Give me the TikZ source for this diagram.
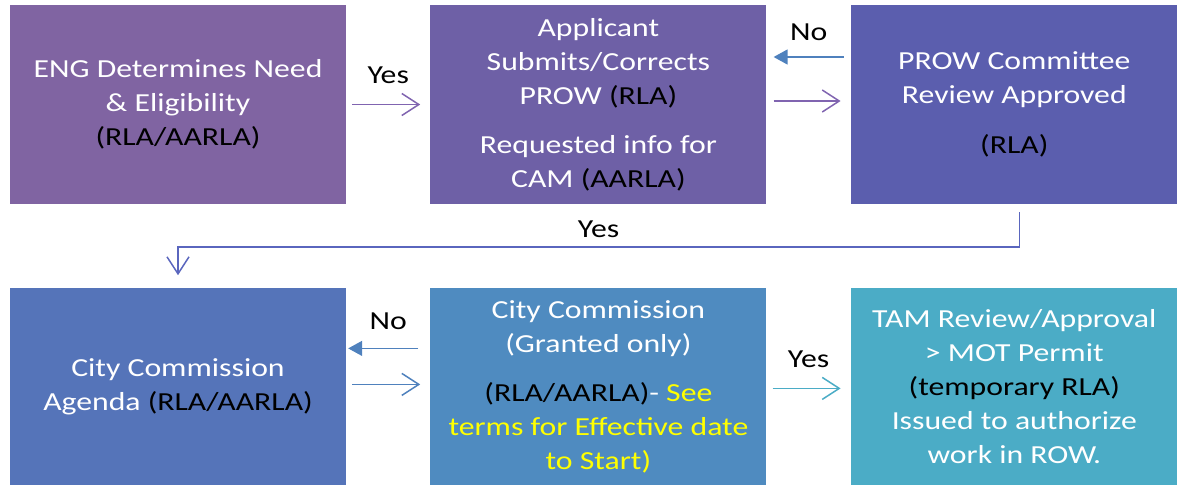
\documentclass[tikz,border=0pt]{standalone}
\usepackage{fontspec}
\setmainfont[FakeStretch=1.22]{Carlito}
\usepackage{xcolor}
\usetikzlibrary{positioning,arrows.meta,calc}

\definecolor{engfill}{RGB}{128,100,162}
\definecolor{applyfill}{RGB}{110,96,166}
\definecolor{prowfill}{RGB}{91,94,174}
\definecolor{agendafill}{RGB}{85,116,185}
\definecolor{grantfill}{RGB}{79,139,192}
\definecolor{tamfill}{RGB}{75,172,198}
\definecolor{purplearrow}{RGB}{128,100,176}
\definecolor{bluearrow}{RGB}{79,129,189}
\definecolor{elbowarrow}{RGB}{90,102,190}
\definecolor{aquaarrow}{RGB}{75,172,198}
\definecolor{notecolor}{RGB}{255,255,0}

\begin{document}
\begin{tikzpicture}[x=1pt, y=-1pt, align=center,
    stage/.style={fill=#1, text=white, minimum width=336pt, minimum height=199pt, inner sep=0pt, font=\fontsize{26}{34}\selectfont},
    fwd/.style={draw=#1, line width=1.5pt, -{Straight Barb[length=17pt, width=22pt]}},
    back/.style={draw=#1, fill=#1, line width=1.5pt, -{Triangle[length=14pt, width=15pt]}},
    answer/.style={font=\fontsize{26}{30}\selectfont, inner sep=0pt}]
    \useasboundingbox (0,0) rectangle (1177,485);

    \node [stage=engfill] (eng) at (178,104.5) {ENG Determines Need\\\& Eligibility\\\textcolor{black}{(RLA/AARLA)}};
    \node [stage=applyfill, right=84pt of eng] (apply) {Applicant\\Submits/Corrects\\PROW \textcolor{black}{(RLA)}\\[15pt]Requested info for\\CAM \textcolor{black}{(AARLA)}};
    \node [stage=prowfill, minimum width=327pt, right=84pt of apply] (prow) {PROW Committee\\Review Approved\\[16pt]\textcolor{black}{(RLA)}};

    \node [stage=agendafill, minimum height=197pt, below=84pt of eng] (agenda) {City Commission\\Agenda \textcolor{black}{(RLA/AARLA)}};
    \node [stage=grantfill, minimum height=197pt, right=84pt of agenda] (grant) {City Commission\\(Granted only)\\[15pt]\textcolor{black}{(RLA/AARLA)}- \textcolor{notecolor}{See}\\\textcolor{notecolor}{terms for Effective date}\\\textcolor{notecolor}{to Start)}};
    \node [stage=tamfill, minimum width=327pt, minimum height=197pt, right=84pt of grant] (tam) {TAM Review/Approval\\> MOT Permit\\\textcolor{black}{(temporary RLA)}\\Issued to authorize\\work in ROW.};

    \draw[fwd=purplearrow, shorten <=6pt, shorten >=10pt] (eng) -- node[answer, above=20pt] (yes_top) {Yes} (apply);
    \draw[back=bluearrow, shorten <=7pt, shorten >=7pt] ([yshift=47.5pt]prow.west) -- node[answer, above=16pt] (no_top) {No} ([yshift=47.5pt]apply.east);
    \draw[fwd=purplearrow, shorten <=7pt, shorten >=10pt] ([yshift=3.5pt]apply.east) -- ([yshift=3.5pt]prow.west);

    \draw[fwd=elbowarrow, shorten <=8pt, shorten >=13pt] ([xshift=5pt]prow.south) -- ++(0,43) -| node[answer, pos=0.25, above=9pt] (yes_mid) {Yes} (agenda.north);

    \draw[back=bluearrow, shorten <=12pt, shorten >=2pt] ([yshift=38.5pt]grant.west) -- node[answer, above=18pt] (no_bottom) {No} ([yshift=38.5pt]agenda.east);
    \draw[fwd=bluearrow, shorten <=6pt, shorten >=10pt] ([yshift=2.5pt]agenda.east) -- ([yshift=2.5pt]grant.west);
    \draw[fwd=aquaarrow, shorten <=6pt, shorten >=10pt] ([yshift=-1.5pt]grant.east) -- node[answer, above=20pt] (yes_bottom) {Yes} ([yshift=-1.5pt]tam.west);
\end{tikzpicture}
\end{document}
